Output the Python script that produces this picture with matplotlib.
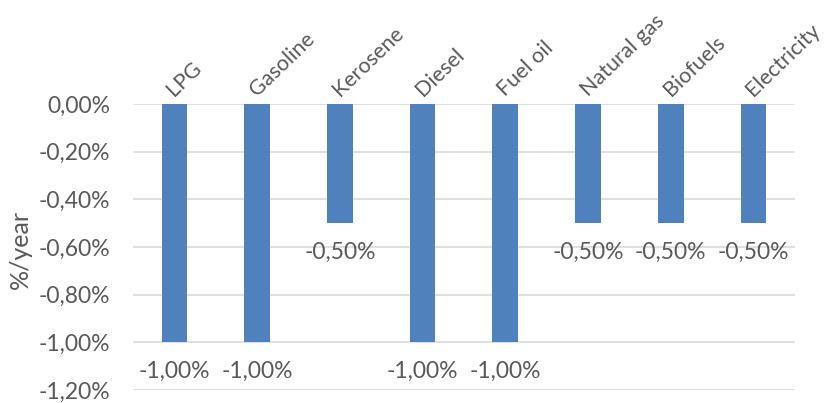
import numpy as np
import matplotlib
matplotlib.use("Agg")
import matplotlib.pyplot as plt

plt.rcParams['font.family'] = ['Lato', 'DejaVu Sans']

fuels = ['LPG', 'Gasoline', 'Kerosene', 'Diesel', 'Fuel oil', 'Natural gas', 'Biofuels', 'Electricity']
rates = [-1.00, -1.00, -0.50, -1.00, -1.00, -0.50, -0.50, -0.50]
yticks = [0.0, -0.2, -0.4, -0.6, -0.8, -1.0, -1.2]

grey = '#595959'
fs = 16.5

fig = plt.figure(figsize=(8.27, 4.03), dpi=100)
ax = fig.add_axes([0.161, 0.032, 0.800, 0.710])

x = np.arange(len(fuels))
bars = ax.bar(x, rates, 0.31, color='#4F81BD', zorder=3)

ax.set_xlim(-0.5, len(fuels) - 0.5)
ax.set_ylim(-1.2, 0)
ax.set_yticks(yticks)
ax.set_yticklabels([('%.2f%%' % v).replace('.', ',') for v in yticks], fontsize=fs, color=grey)
ax.tick_params(axis='y', length=0, pad=16.5)
ax.set_xticks([])
ax.grid(axis='y', color='#D9D9D9', linewidth=1.2, zorder=0)
for s in ax.spines.values():
    s.set_visible(False)

# category labels on top, rotated
for xi, name in zip(x, fuels):
    ax.annotate(name, xy=(xi, 1), xycoords=('data', 'axes fraction'),
                xytext=(0, 5), textcoords='offset points',
                rotation=44, rotation_mode='anchor', ha='left', va='baseline',
                fontsize=15.5, color=grey, annotation_clip=False)

# value labels under each bar
for xi, v in zip(x, rates):
    ax.annotate(('%.2f%%' % v).replace('.', ','), xy=(xi, v),
                xytext=(0, -21), textcoords='offset points',
                ha='center', va='center', fontsize=fs, color=grey)

fig.text(0.025, 0.38, '%/year', rotation=90, ha='center', va='center', fontsize=18, color=grey)

fig.savefig('out.png', dpi=100)
